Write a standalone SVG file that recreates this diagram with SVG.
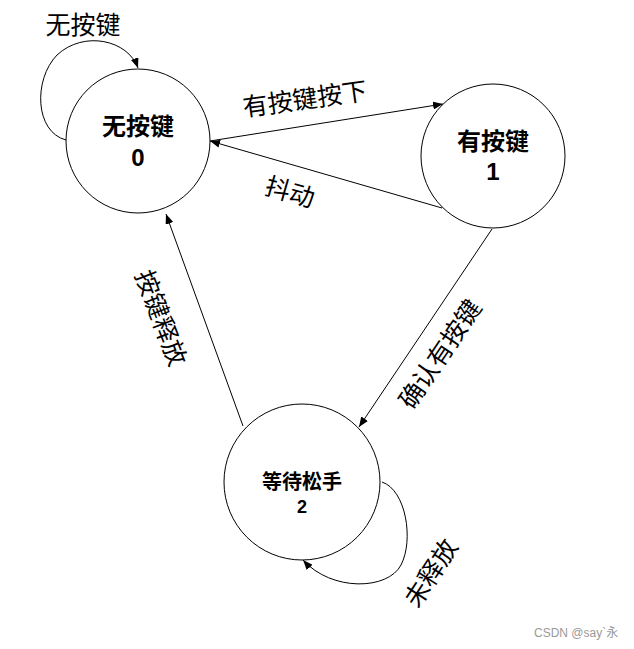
<svg xmlns="http://www.w3.org/2000/svg" width="634" height="649" viewBox="0 0 634 649">
<style>
.node{fill:#fff;stroke:#000;stroke-width:1}
.edge{fill:none;stroke:#000;stroke-width:1}
text{font-family:"Liberation Sans","Noto Sans CJK SC",sans-serif;fill:#000}
.nt{font-size:24px;font-weight:bold;text-anchor:middle}
.lbl{font-size:25px;text-anchor:middle;dominant-baseline:central}
.wm{font-size:12px;fill:#999}
</style>
<defs>
<marker id="arr" markerWidth="10" markerHeight="8" refX="10" refY="4" orient="auto" markerUnits="userSpaceOnUse">
<path d="M0,0 L10,4 L0,8 z" fill="#000"/>
</marker>
</defs>
<g id="edges">
<path class="edge" d="M66,140 C35,132 33,80 57,55 C84,30 128,40 138,68" marker-end="url(#arr)"/>
<line class="edge" x1="210" y1="141" x2="443" y2="104" marker-end="url(#arr)"/>
<line class="edge" x1="442" y1="208" x2="210" y2="141" marker-end="url(#arr)"/>
<line class="edge" x1="492" y1="229" x2="359" y2="427" marker-end="url(#arr)"/>
<line class="edge" x1="243" y1="426" x2="166" y2="214" marker-end="url(#arr)"/>
<path class="edge" d="M382,482 C406,490 414,540 401,565 C388,590 332,592 303,560" marker-end="url(#arr)"/>
</g>
<g id="node0">
<circle class="node" cx="138" cy="141" r="72"/>
<text class="nt" x="138" y="135">无按键</text>
<text class="nt" x="138" y="166">0</text>
</g>
<g id="node1">
<circle class="node" cx="493" cy="156" r="72"/>
<text class="nt" x="493" y="150">有按键</text>
<text class="nt" x="493" y="180">1</text>
</g>
<g id="node2">
<circle class="node" cx="302" cy="482" r="78"/>
<text class="nt" x="302" y="489" style="font-size:20px">等待松手</text>
<text class="nt" x="302" y="513" style="font-size:18px">2</text>
</g>
<g id="labels">
<text class="lbl" x="83" y="25">无按键</text>
<text class="lbl" x="305" y="99" transform="rotate(-8 305 99)">有按键按下</text>
<text class="lbl" x="290" y="192" transform="rotate(16 290 192)">抖动</text>
<text class="lbl" x="161" y="318" transform="rotate(69 161 318)">按键释放</text>
<text class="lbl" x="440" y="354" transform="rotate(-56 440 354)">确认有按键</text>
<text class="lbl" x="431" y="573" transform="rotate(-57 431 573)">未释放</text>
</g>
<text class="wm" x="534" y="637">CSDN @say`永</text>
</svg>
